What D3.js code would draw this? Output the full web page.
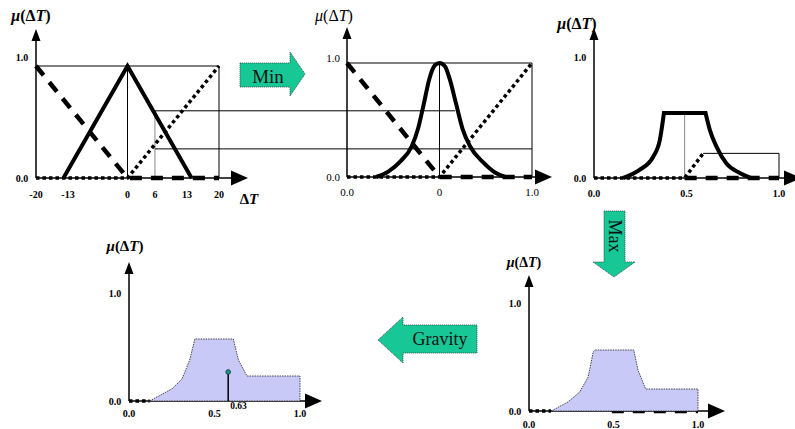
<!DOCTYPE html>
<html>
<head>
<meta charset="utf-8">
<script src="https://cdn.jsdelivr.net/npm/d3@7"></script>
<style>
  body { margin: 0; background: #fff; }
  svg { display: block; }
  text { font-family: "Liberation Serif", "Times New Roman", serif; }
</style>
</head>
<body>
<svg id="chart" width="795" height="429"></svg>
<script>
// ---- data ----
// panel 1: input membership functions over ΔT
const dtTicks = [-20, -13, 0, 6, 13, 20];
const negIn = [[-20, 1], [0, 0], [20, 0]];
const zeroIn = [[-14, 0], [0, 1], [14, 0]];
const posIn = [[-20, 0], [0, 0], [20, 1]];
const inputT = 6;
const cutZero = 0.6;   // degree of "zero" at ΔT = 6
const cutPos = 0.26;   // degree of "positive" at ΔT = 6
const cutEnds = [0.17, 1];

// panel 2: output membership functions
const outTicks = [-1, 0, 1];
const outLabels = ['0.0', '0', '1.0'];
const negOut = [[-1, 1], [0, 0], [1, 0]];
const posOut = [[-1, 0], [0, 0], [1, 1]];
const bell = [[-0.685, 0], [-0.55, 0.05], [-0.42, 0.14], [-0.3, 0.27], [-0.23, 0.43], [-0.17, 0.64],
  [-0.11, 0.86], [-0.05, 0.98], [0, 1], [0.06, 0.97], [0.11, 0.86], [0.18, 0.64], [0.25, 0.42],
  [0.33, 0.27], [0.47, 0.13], [0.6, 0.04], [0.71, 0]];

// panel 3: clipped consequents
const unitTicks = [0, 0.5, 1];
const unitLabels = ['0.0', '0.5', '1.0'];
const zeroRise = [[0.158, 0], [0.248, 0.074], [0.32, 0.19], [0.356, 0.34], [0.378, 0.58]];
const zeroFall = [[0.603, 0.58], [0.626, 0.43], [0.662, 0.28], [0.716, 0.13], [0.788, 0.045], [0.85, 0]];
const posCutDots = [[0, 0], [0.49, 0], [0.59, 0.22]];
const posCutTop = [[0.59, 0.22], [1, 0.22], [1, 0]];
const negCut = [[0.49, 0], [1, 0]];
const midLine = [[0.49, 0], [0.49, 0.58]];

// panel 4: max aggregation
const aggMax = [[0.132, 0], [0.23, 0.09], [0.3, 0.19], [0.35, 0.34], [0.38, 0.59], [0.39, 0.61],
  [0.62, 0.61], [0.645, 0.41], [0.69, 0.22], [1, 0.22], [1, 0]];
const aggMaxDots = [[0, 0], [0.13, 0]];

// panel 5: centre of gravity
const aggCog = [[0.12, 0], [0.25, 0.12], [0.31, 0.22], [0.355, 0.41], [0.385, 0.62],
  [0.61, 0.62], [0.64, 0.41], [0.69, 0.25], [1, 0.25], [1, 0]];
const aggCogDots = [[0, 0], [0.12, 0]];
const cog = [0.58, 0.29];
const cogLabel = '0.63';

// ---- drawing ----
const svg = d3.select('#chart');
const green = '#17c896';

const styles = {
  thick: { w: 4, dash: null, c: '#000' },
  dashed: { w: 4.5, dash: '12,9', c: '#000' },
  dotted: { w: 3.5, dash: '3.5,3', c: '#000' },
  thin: { w: 1, dash: null, c: '#000' },
  grey: { w: 1, dash: null, c: '#888' }
};

function makePanel(o) {
  const x = d3.scaleLinear().domain(o.xDomain).range(o.xRange);
  const y = d3.scaleLinear().domain([0, 1]).range(o.yRange);
  const g = svg.append('g');
  const x0 = x(o.xDomain[0]), y0 = y(0);
  const p = { x, y, g, o, x0, y0 };

  g.append('line').attr('x1', x0).attr('x2', x0).attr('y1', y0).attr('y2', o.yTip + 8)
    .attr('stroke', '#000').attr('stroke-width', 1.5);
  g.append('line').attr('x1', x0).attr('x2', o.xTip - 10).attr('y1', y0).attr('y2', y0)
    .attr('stroke', '#000').attr('stroke-width', 1.5);

  const fw = o.bold ? 'bold' : 'normal';
  g.selectAll('.xt').data(o.ticks).join('text')
    .attr('x', (d, i) => x(d)).attr('y', y0 + o.tickDy)
    .attr('text-anchor', 'middle').attr('dominant-baseline', 'central')
    .attr('font-size', o.fs).attr('font-weight', fw)
    .text((d, i) => o.labels ? o.labels[i] : d);
  [['0.0', 0, 0], ['1.0', 1, o.oneDy]].forEach(([t, v, dy]) => {
    g.append('text').attr('x', x0 - 14).attr('y', y(v) + dy)
      .attr('text-anchor', 'middle').attr('dominant-baseline', 'central')
      .attr('font-size', o.fs).attr('font-weight', fw).text(t);
  });

  const mu = g.append('text').attr('x', o.mu[0]).attr('y', o.mu[1])
    .attr('text-anchor', 'middle').attr('dominant-baseline', 'central')
    .attr('font-size', o.muFs).attr('font-weight', fw);
  mu.append('tspan').attr('font-style', 'italic').text('μ');
  mu.append('tspan').text('(Δ');
  mu.append('tspan').attr('font-style', 'italic').text('T');
  mu.append('tspan').text(')');
  return p;
}

function heads(p) {
  const { g, o, x0, y0 } = p;
  g.append('path').attr('d', `M${x0},${o.yTip} L${x0 - 4.5},${o.yTip + 12} L${x0 + 4.5},${o.yTip + 12} Z`);
  g.append('path').attr('d', `M${o.xTip},${y0} L${o.xTip - 17},${y0 - 7.5} L${o.xTip - 17},${y0 + 7.5} Z`);
}

function lineGen(p, curve) {
  return d3.line().x(d => p.x(d[0])).y(d => p.y(d[1])).curve(curve || d3.curveLinear);
}

function draw(p, pts, style, curve) {
  const s = styles[style];
  p.g.append('path').attr('d', lineGen(p, curve)(pts))
    .attr('fill', 'none').attr('stroke', s.c).attr('stroke-width', s.w)
    .attr('stroke-dasharray', s.dash);
}

function area(p, pts) {
  p.g.append('path').attr('d', lineGen(p)(pts) + 'Z')
    .attr('fill', '#c9c9f7').attr('stroke', '#333').attr('stroke-width', 0.9)
    .attr('stroke-dasharray', '1.5,1');
}

// panel 1
const p1 = makePanel({ xDomain: [-20, 20], xRange: [36, 219], yRange: [178, 66], yTip: 29, xTip: 248,
  ticks: dtTicks, tickDy: 16, oneDy: -9, fs: 10, bold: true, mu: [31, 15], muFs: 16 });
draw(p1, [[-20, 1], [20, 1]], 'thin');
draw(p1, [[0, 0], [0, 1]], 'thin');
draw(p1, [[20, 0], [20, 1]], 'thin');
draw(p1, [[inputT, 0], [inputT, cutZero]], 'grey');
draw(p1, negIn, 'dashed');
draw(p1, zeroIn, 'thick');
draw(p1, posIn, 'dotted');
heads(p1);
const dt = p1.g.append('text').attr('x', 249).attr('y', 199).attr('text-anchor', 'middle')
  .attr('dominant-baseline', 'central').attr('font-size', 15).attr('font-weight', 'bold');
dt.append('tspan').text('Δ');
dt.append('tspan').attr('font-style', 'italic').text('T');

// panel 2
const p2 = makePanel({ xDomain: [-1, 1], xRange: [347, 532], yRange: [177, 63], yTip: 27, xTip: 552,
  ticks: outTicks, labels: outLabels, tickDy: 15, oneDy: -5, fs: 11, bold: false, mu: [334, 15], muFs: 16 });
draw(p2, [[-1, 1], [1, 1]], 'thin');
draw(p2, [[0, 0], [0, 1]], 'thin');
draw(p2, [[1, 0], [1, 1]], 'thin');
draw(p2, negOut, 'dashed');
draw(p2, posOut, 'dotted');
draw(p2, bell, 'thick', d3.curveMonotoneX);
heads(p2);

// cut lines running from panel 1 into panel 2
[cutZero, cutPos].forEach((c, i) => {
  svg.append('line').attr('x1', p1.x(inputT)).attr('x2', p2.x(cutEnds[i]))
    .attr('y1', p1.y(c)).attr('y2', p1.y(c)).attr('stroke', '#000').attr('stroke-width', 1);
});

// panel 3
const p3 = makePanel({ xDomain: [0, 1], xRange: [594, 779], yRange: [178, 66], yTip: 28, xTip: 801,
  ticks: unitTicks, labels: unitLabels, tickDy: 15, oneDy: -9, fs: 10, bold: true, mu: [577, 23], muFs: 16 });
draw(p3, midLine, 'grey');
draw(p3, posCutDots, 'dotted');
draw(p3, posCutTop, 'thin');
draw(p3, negCut, 'dashed');
const riseD = lineGen(p3, d3.curveMonotoneX)(zeroRise);
const fallD = lineGen(p3, d3.curveMonotoneX)(zeroFall);
p3.g.append('path').attr('d', riseD + fallD.replace(/^M/, 'L'))
  .attr('fill', 'none').attr('stroke', '#000').attr('stroke-width', 4);
heads(p3);

// panel 4
const p4 = makePanel({ xDomain: [0, 1], xRange: [529, 698], yRange: [411, 311], yTip: 275, xTip: 725,
  ticks: unitTicks, labels: unitLabels, tickDy: 13, oneDy: -8, fs: 10, bold: true, mu: [524, 262], muFs: 14 });
draw(p4, negCut, 'dashed');
draw(p4, aggMaxDots, 'dotted');
area(p4, aggMax);
heads(p4);

// panel 5
const p5 = makePanel({ xDomain: [0, 1], xRange: [129, 300], yRange: [401, 301], yTip: 262, xTip: 322,
  ticks: unitTicks, labels: unitLabels, tickDy: 12, oneDy: -8, fs: 10, bold: true, mu: [125, 246], muFs: 15 });
draw(p5, aggCogDots, 'dotted');
area(p5, aggCog);
p5.g.append('line').attr('x1', p5.x(cog[0])).attr('x2', p5.x(cog[0]))
  .attr('y1', p5.y(0)).attr('y2', p5.y(cog[1])).attr('stroke', '#000').attr('stroke-width', 1.5);
p5.g.append('circle').attr('cx', p5.x(cog[0])).attr('cy', p5.y(cog[1])).attr('r', 2.3)
  .attr('fill', '#1f9a78').attr('stroke', '#145');
p5.g.append('text').attr('x', p5.x(cog[0]) + 2).attr('y', p5.y(0) + 5)
  .attr('dominant-baseline', 'central').attr('font-size', 9.5).attr('font-weight', 'bold').text(cogLabel);
heads(p5);

// block arrows
function block(pts, label, tx, ty, rot, fs) {
  svg.append('path').attr('d', 'M' + pts.map(d => d.join(',')).join('L') + 'Z')
    .attr('fill', green).attr('stroke', '#2b4b42').attr('stroke-width', 0.8)
    .attr('stroke-dasharray', '1.2,0.8');
  svg.append('text').attr('transform', `translate(${tx},${ty}) rotate(${rot})`)
    .attr('text-anchor', 'middle').attr('dominant-baseline', 'central')
    .attr('font-size', fs).attr('fill', '#111').text(label);
}
block([[240, 63], [290, 63], [290, 52], [305, 74], [290, 96], [290, 87], [240, 87]], 'Min', 268, 76, 0, 19);
block([[604, 211], [625, 211], [625, 262], [635, 262], [614, 277], [593, 262], [604, 262]], 'Max', 615, 236, 90, 18);
block([[477, 325], [403, 325], [403, 317], [378, 340], [403, 363], [403, 353], [477, 353]], 'Gravity', 440, 339, 0, 18);
</script>
</body>
</html>
